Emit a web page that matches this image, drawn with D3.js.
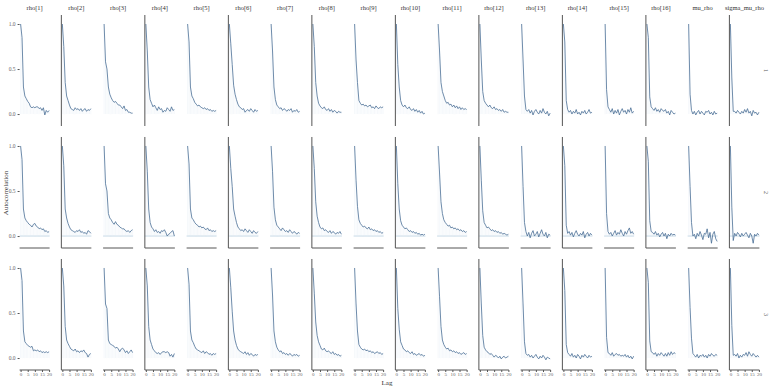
<!DOCTYPE html>
<html lang="en">
<head>
  <meta charset="UTF-8">
  <title>ACF</title>
  <script src="https://d3js.org/d3.v7.min.js"></script>
  <style>
    body { margin: 0; background: #fff; }
    text { font-family: "Liberation Serif", serif; }
  </style>
</head>
<body>
  <div id="chart"></div>
  <script>
    const params = ["rho[1]", "rho[2]", "rho[3]", "rho[4]", "rho[5]", "rho[6]", "rho[7]", "rho[8]",
      "rho[9]", "rho[10]", "rho[11]", "rho[12]", "rho[13]", "rho[14]", "rho[15]", "rho[16]",
      "mu_rho", "sigma_mu_rho"];
    const chains = ["1", "2", "3"];
    const lags = d3.range(0, 21);
    const yTicks = [0, 0.5, 1];
    const xTicks = [0, 5, 10, 15, 20];

    // autocorrelation, one row per parameter, lags 0..20
    const acfChain1 = [
      [1, 0.85, 0.3, 0.2, 0.17, 0.14, 0.12, 0.08, 0.07, 0.08, 0.07, 0.08, 0.08, 0.06, 0.07, 0.04, 0.07, -0.01, 0.04, 0.02, 0.04],
      [1, 0.75, 0.35, 0.2, 0.15, 0.1, 0.06, 0.05, 0.04, 0.07, 0.05, 0.06, 0.04, 0.06, 0.03, 0.05, 0.06, 0.03, 0.05, 0.04, 0.06],
      [1, 0.58, 0.5, 0.3, 0.22, 0.18, 0.15, 0.13, 0.14, 0.12, 0.1, 0.1, 0.08, 0.06, 0.09, 0.04, 0.05, 0.02, 0.02, 0.01, 0.01],
      [1, 0.7, 0.3, 0.16, 0.12, 0.08, 0.1, 0.07, 0.04, 0.08, 0.05, 0.06, 0.02, 0.04, 0.03, 0.07, 0.05, 0.03, 0.08, 0.04, 0.05],
      [1, 0.8, 0.3, 0.2, 0.17, 0.13, 0.11, 0.09, 0.1, 0.08, 0.07, 0.06, 0.07, 0.05, 0.06, 0.04, 0.05, 0.03, 0.04, 0.03, 0.04],
      [1, 0.78, 0.55, 0.32, 0.22, 0.16, 0.11, 0.08, 0.07, 0.05, 0.06, 0.02, 0.04, 0.05, 0.03, 0.06, 0.04, 0.02, 0.05, 0.03, 0.04],
      [1, 0.7, 0.3, 0.16, 0.1, 0.08, 0.06, 0.07, 0.04, 0.06, 0.05, 0.03, 0.05, 0.04, 0.06, 0.02, 0.04, 0.03, 0.05, 0.02, 0.03],
      [1, 0.75, 0.35, 0.2, 0.12, 0.09, 0.07, 0.06, 0.08, 0.05, 0.04, 0.06, 0.03, 0.05, 0.02, 0.04, 0.03, 0.01, 0.03, 0.02, 0.02],
      [1, 0.6, 0.35, 0.15, 0.12, 0.1, 0.11, 0.09, 0.1, 0.08, 0.09, 0.1, 0.07, 0.08, 0.06, 0.09, 0.07, 0.06, 0.08, 0.07, 0.08],
      [1, 0.55, 0.3, 0.15, 0.1, 0.08, 0.1, 0.07, 0.06, 0.08, 0.05, 0.04, 0.06, 0.03, 0.05, 0.02, 0.04, 0.01, 0.03, 0.0, 0.01],
      [1, 0.7, 0.35, 0.25, 0.2, 0.15, 0.12, 0.13, 0.1, 0.11, 0.08, 0.1, 0.07, 0.09, 0.06, 0.08, 0.05, 0.07, 0.05, 0.06, 0.05],
      [1, 0.6, 0.25, 0.15, 0.12, 0.1, 0.08, 0.1, 0.07, 0.06, 0.08, 0.05, 0.06, 0.04, 0.05, 0.03, 0.05, 0.02, 0.03, 0.02, 0.02],
      [1, 0.6, 0.2, 0.05, 0.03, 0.05, 0.01, 0.04, -0.01, 0.03, 0.05, 0.02, 0.0, 0.04, 0.01, 0.06, 0.02, 0.0, 0.03, -0.02, 0.01],
      [1, 0.8, 0.15, 0.05, 0.02, 0.04, 0.0, 0.03, 0.01, 0.05, 0.0, 0.02, -0.01, 0.03, 0.01, 0.04, 0.0, 0.02, 0.05, 0.01, 0.02],
      [1, 0.27, 0.08, 0.05, 0.02, 0.06, 0.0, 0.04, 0.01, 0.05, -0.01, 0.03, 0.06, 0.02, 0.04, 0.0, 0.05, 0.02, 0.07, 0.01, 0.03],
      [1, 0.85, 0.19, 0.08, 0.06, 0.04, 0.07, 0.03, 0.05, 0.02, 0.06, 0.04, 0.03, 0.05, 0.01, 0.03, -0.01, 0.04, 0.02, 0.0, 0.01],
      [1, 0.22, 0.04, 0.0, 0.03, -0.01, 0.02, 0.04, 0.0, 0.03, 0.01, -0.01, 0.03, 0.02, 0.04, 0.0, 0.02, -0.01, 0.03, 0.0, 0.01],
      [1, 0.4, 0.03, 0.03, 0.01, 0.04, 0.02, 0.0, 0.03, 0.01, 0.05, 0.02, 0.06, 0.01, 0.03, -0.02, 0.04, 0.01, 0.02, -0.01, 0.02]
    ];
    const acfChain2 = [
      [1, 0.85, 0.3, 0.2, 0.17, 0.15, 0.13, 0.12, 0.1, 0.13, 0.14, 0.11, 0.1, 0.08, 0.09, 0.07, 0.08, 0.05, 0.06, 0.04, 0.05],
      [1, 0.78, 0.3, 0.2, 0.14, 0.1, 0.07, 0.06, 0.05, 0.04, 0.06, 0.05, 0.07, 0.04, 0.05, 0.03, 0.04, 0.02, 0.06, 0.05, 0.03],
      [1, 0.58, 0.5, 0.25, 0.2, 0.18, 0.15, 0.13, 0.16, 0.13, 0.12, 0.1, 0.09, 0.08, 0.08, 0.06, 0.05, 0.06, 0.04, 0.06, 0.07],
      [1, 0.72, 0.3, 0.15, 0.1, 0.08, 0.05, 0.07, 0.04, 0.05, 0.03, 0.06, 0.05, 0.07, 0.04, 0.0, 0.02, 0.03, 0.05, 0.06, 0.0],
      [1, 0.8, 0.3, 0.2, 0.18, 0.15, 0.13, 0.12, 0.1, 0.11, 0.09, 0.1, 0.08, 0.07, 0.09, 0.06, 0.07, 0.05, 0.06, 0.05, 0.06],
      [1, 0.75, 0.55, 0.3, 0.22, 0.15, 0.1, 0.08, 0.06, 0.07, 0.05, 0.08, 0.06, 0.04, 0.07, 0.05, 0.03, 0.06, 0.04, 0.03, 0.05],
      [1, 0.72, 0.32, 0.18, 0.12, 0.1, 0.08, 0.06, 0.09, 0.07, 0.05, 0.06, 0.04, 0.07, 0.05, 0.03, 0.05, 0.04, 0.02, 0.04, 0.03],
      [1, 0.75, 0.38, 0.22, 0.15, 0.1, 0.08, 0.09, 0.06, 0.07, 0.05, 0.04, 0.06, 0.03, 0.05, 0.04, 0.02, 0.04, 0.03, 0.05, 0.02],
      [1, 0.62, 0.33, 0.18, 0.14, 0.12, 0.1, 0.11, 0.09, 0.08, 0.1, 0.07, 0.08, 0.06, 0.07, 0.05, 0.06, 0.04, 0.05, 0.03, 0.04],
      [1, 0.58, 0.3, 0.17, 0.12, 0.1, 0.08, 0.09, 0.07, 0.05, 0.06, 0.04, 0.05, 0.03, 0.04, 0.02, 0.03, 0.01, 0.02, 0.01, 0.02],
      [1, 0.7, 0.38, 0.25, 0.18, 0.15, 0.13, 0.11, 0.12, 0.09, 0.1, 0.08, 0.09, 0.07, 0.08, 0.06, 0.07, 0.05, 0.06, 0.04, 0.05],
      [1, 0.62, 0.28, 0.15, 0.12, 0.09, 0.1, 0.08, 0.06, 0.07, 0.05, 0.06, 0.04, 0.05, 0.03, 0.04, 0.02, 0.03, 0.02, 0.01, 0.02],
      [1, 0.55, 0.15, 0.05, 0.0, 0.04, -0.02, 0.03, 0.06, 0.0, 0.02, 0.05, -0.01, 0.03, 0.07, 0.02, 0.0, 0.04, -0.02, 0.02, 0.01],
      [1, 0.78, 0.12, 0.03, 0.05, 0.01, 0.04, -0.01, 0.03, 0.06, 0.02, 0.0, 0.03, 0.01, 0.05, -0.02, 0.02, 0.04, 0.0, 0.03, 0.01],
      [1, 0.25, 0.05, 0.02, 0.04, 0.0, 0.03, 0.06, 0.01, 0.04, 0.02, 0.07, 0.03, 0.0, 0.05, 0.02, 0.06, 0.09, 0.03, 0.05, 0.02],
      [1, 0.83, 0.17, 0.05, 0.04, 0.02, 0.05, 0.01, 0.03, -0.01, 0.02, 0.04, 0.0, 0.03, -0.03, 0.02, 0.0, 0.03, 0.01, 0.02, 0.01],
      [1, 0.55, 0.15, 0.0, 0.02, -0.03, 0.03, 0.0, 0.05, 0.01, -0.04, 0.03, 0.02, 0.08, -0.02, 0.04, -0.08, 0.02, 0.05, -0.03, -0.06],
      [1, 0.32, -0.05, 0.03, 0.0, 0.04, 0.02, -0.01, 0.03, 0.0, 0.02, 0.04, 0.01, -0.02, 0.03, 0.0, -0.08, 0.02, 0.0, 0.03, 0.01]
    ];
    const acfChain3 = [
      [1, 0.86, 0.3, 0.18, 0.16, 0.14, 0.13, 0.12, 0.13, 0.08, 0.09, 0.08, 0.09, 0.07, 0.08, 0.06, 0.07, 0.06, 0.07, 0.06, 0.07],
      [1, 0.8, 0.35, 0.2, 0.16, 0.13, 0.1, 0.09, 0.08, 0.1, 0.07, 0.08, 0.06, 0.08, 0.07, 0.09, 0.06, 0.05, 0.01, 0.04, 0.05],
      [1, 0.6, 0.55, 0.2, 0.16, 0.15, 0.14, 0.13, 0.11, 0.12, 0.1, 0.07, 0.1, 0.11, 0.09, 0.06, 0.08, 0.05, 0.07, 0.09, 0.06],
      [1, 0.8, 0.35, 0.2, 0.15, 0.1, 0.08, 0.06, 0.05, 0.06, 0.04, 0.06, 0.07, 0.07, 0.06, 0.07, 0.06, 0.02, 0.04, 0.01, 0.05],
      [1, 0.82, 0.3, 0.2, 0.17, 0.13, 0.1, 0.09, 0.08, 0.07, 0.06, 0.08, 0.05, 0.07, 0.06, 0.04, 0.05, 0.03, 0.05, 0.04, 0.05],
      [1, 0.78, 0.52, 0.3, 0.2, 0.14, 0.1, 0.08, 0.07, 0.06, 0.05, 0.07, 0.04, 0.06, 0.03, 0.05, 0.04, 0.02, 0.04, 0.03, 0.04],
      [1, 0.7, 0.3, 0.18, 0.12, 0.09, 0.07, 0.08, 0.05, 0.06, 0.04, 0.05, 0.03, 0.05, 0.04, 0.02, 0.04, 0.03, 0.04, 0.02, 0.03],
      [1, 0.72, 0.4, 0.25, 0.18, 0.14, 0.1, 0.09, 0.11, 0.08, 0.07, 0.08, 0.06, 0.05, 0.07, 0.04, 0.05, 0.03, 0.04, 0.02, 0.03],
      [1, 0.6, 0.3, 0.15, 0.12, 0.1, 0.09, 0.1, 0.08, 0.09, 0.07, 0.08, 0.06, 0.07, 0.05, 0.06, 0.07, 0.05, 0.06, 0.04, 0.05],
      [1, 0.55, 0.32, 0.18, 0.14, 0.1, 0.09, 0.07, 0.08, 0.06, 0.05, 0.07, 0.04, 0.05, 0.03, 0.04, 0.05, 0.03, 0.04, 0.02, 0.03],
      [1, 0.68, 0.35, 0.2, 0.15, 0.12, 0.1, 0.11, 0.08, 0.09, 0.07, 0.08, 0.06, 0.07, 0.05, 0.06, 0.04, 0.05, 0.06, 0.04, 0.05],
      [1, 0.6, 0.25, 0.12, 0.09, 0.07, 0.06, 0.04, 0.05, 0.03, 0.01, 0.03, 0.02, 0.0, 0.02, -0.01, 0.01, 0.02, 0.0, 0.01, 0.02],
      [1, 0.6, 0.18, 0.05, 0.03, 0.04, 0.01, 0.03, 0.0, 0.02, 0.04, 0.01, -0.01, 0.02, 0.0, 0.03, 0.01, -0.02, 0.01, 0.0, -0.01],
      [1, 0.75, 0.15, 0.06, 0.04, 0.02, 0.05, 0.01, 0.03, 0.0, 0.04, 0.02, -0.01, 0.03, 0.01, 0.04, 0.02, 0.0, 0.03, 0.01, 0.02],
      [1, 0.23, 0.06, 0.05, 0.03, 0.06, 0.02, 0.04, 0.05, 0.03, 0.04, 0.02, 0.03, 0.02, 0.04, 0.01, 0.03, 0.0, 0.02, -0.01, 0.02],
      [1, 0.84, 0.19, 0.07, 0.06, 0.04, 0.06, 0.02, 0.05, 0.03, 0.06, 0.04, 0.02, 0.05, 0.02, 0.06, 0.03, 0.07, 0.04, 0.06, 0.05],
      [1, 0.56, 0.22, 0.05, 0.03, 0.01, 0.04, 0.0, 0.03, 0.02, 0.04, 0.01, 0.03, 0.0, 0.04, 0.02, 0.05, 0.03, 0.02, 0.04, 0.03],
      [1, 0.36, 0.03, 0.04, 0.02, 0.05, 0.0, 0.03, 0.01, 0.04, 0.03, 0.06, 0.02, 0.07, 0.04, 0.02, 0.05, 0.03, 0.01, 0.03, 0.01]
    ];
    const acfByChain = [acfChain1, acfChain2, acfChain3];

    const width = 775, height = 388;
    const lineColor = "#4a6e96";
    const barColor = "#e1ebf3";
    const axisColor = "#555";

    const svg = d3.select("#chart").append("svg")
      .attr("width", width)
      .attr("height", height);

    const colScale = d3.scaleBand()
      .domain(params)
      .range([19.6, 759.4])
      .paddingInner(0.2814);

    const rowScale = d3.scaleBand()
      .domain(chains)
      .range([15, 370])
      .paddingInner(0.09);

    chains.forEach((chain, ci) => {
      const top = rowScale(chain);
      const bottom = top + rowScale.bandwidth();
      const y = d3.scaleLinear()
        .domain([-0.133, 1.1])
        .range([bottom, top]);

      params.forEach((p, pi) => {
        const left = colScale(p);
        const x = d3.scaleLinear()
          .domain([0, 20])
          .range([left + 1, left + 29.5]);
        const values = acfByChain[ci][pi];
        const pts = lags.map((l, i) => ({ lag: l, acf: values[i] }));
        const g = svg.append("g");

        // zero line only shows in the middle row
        if (ci === 1) {
          g.append("line")
            .attr("x1", left).attr("x2", left + colScale.bandwidth())
            .attr("y1", y(0)).attr("y2", y(0))
            .attr("stroke", "#b8cfe0")
            .attr("stroke-width", 0.8);
        }

        g.selectAll(".bar")
          .data(pts)
          .enter()
          .append("line")
          .attr("x1", d => x(d.lag))
          .attr("x2", d => x(d.lag))
          .attr("y1", y(0))
          .attr("y2", d => y(d.acf))
          .attr("stroke", barColor)
          .attr("stroke-width", 0.35);

        g.append("path")
          .datum(pts)
          .attr("fill", "none")
          .attr("stroke", lineColor)
          .attr("stroke-width", 0.8)
          .attr("d", d3.line().x(d => x(d.lag)).y(d => y(d.acf)));

        // the odd-looking axis lines: every second column gets a left line
        if (pi % 2 === 1) {
          g.append("line")
            .attr("x1", left).attr("x2", left)
            .attr("y1", top).attr("y2", bottom)
            .attr("stroke", axisColor)
            .attr("stroke-width", 1);
        }
        if (ci > 0) {
          g.append("line")
            .attr("x1", left).attr("x2", left + colScale.bandwidth())
            .attr("y1", bottom).attr("y2", bottom)
            .attr("stroke", axisColor)
            .attr("stroke-width", 1);
        }

        if (ci === chains.length - 1) {
          const xAxis = d3.axisBottom(x).tickValues(xTicks).tickSize(2).tickPadding(0.5);
          const ax = svg.append("g")
            .attr("transform", `translate(0, ${bottom})`)
            .call(xAxis);
          ax.select(".domain").remove();
          ax.selectAll(".tick line").attr("stroke", axisColor);
          ax.selectAll(".tick text")
            .attr("font-size", 5)
            .attr("font-family", "Liberation Serif, serif")
            .attr("fill", "#666");
        }

        if (pi === 0) {
          const yAxis = d3.axisLeft(y).tickValues(yTicks).tickFormat(d3.format(".1f")).tickSize(2).tickPadding(2);
          const ay = svg.append("g")
            .attr("transform", `translate(${left}, 0)`)
            .call(yAxis);
          ay.select(".domain").remove();
          ay.selectAll(".tick line").attr("stroke", axisColor);
          ay.selectAll(".tick text")
            .attr("font-size", 5.5)
            .attr("font-family", "Liberation Serif, serif")
            .attr("fill", "#666");
        }

        if (ci === 0) {
          svg.append("text")
            .attr("x", left + colScale.bandwidth() / 2)
            .attr("y", 10)
            .attr("text-anchor", "middle")
            .attr("font-size", 6.5)
            .attr("fill", "#333")
            .text(p);
        }
      });

      svg.append("text")
        .attr("transform", `translate(764, ${(top + bottom) / 2}) rotate(90)`)
        .attr("text-anchor", "middle")
        .attr("font-size", 6)
        .attr("fill", "#555")
        .text(chain);
    });

    svg.append("text")
      .attr("transform", `translate(8, 193) rotate(-90)`)
      .attr("text-anchor", "middle")
      .attr("font-size", 7)
      .attr("fill", "#333")
      .text("Autocorrelation");

    svg.append("text")
      .attr("x", 387)
      .attr("y", 385)
      .attr("text-anchor", "middle")
      .attr("font-size", 7)
      .attr("fill", "#333")
      .text("Lag");
  </script>
</body>
</html>
